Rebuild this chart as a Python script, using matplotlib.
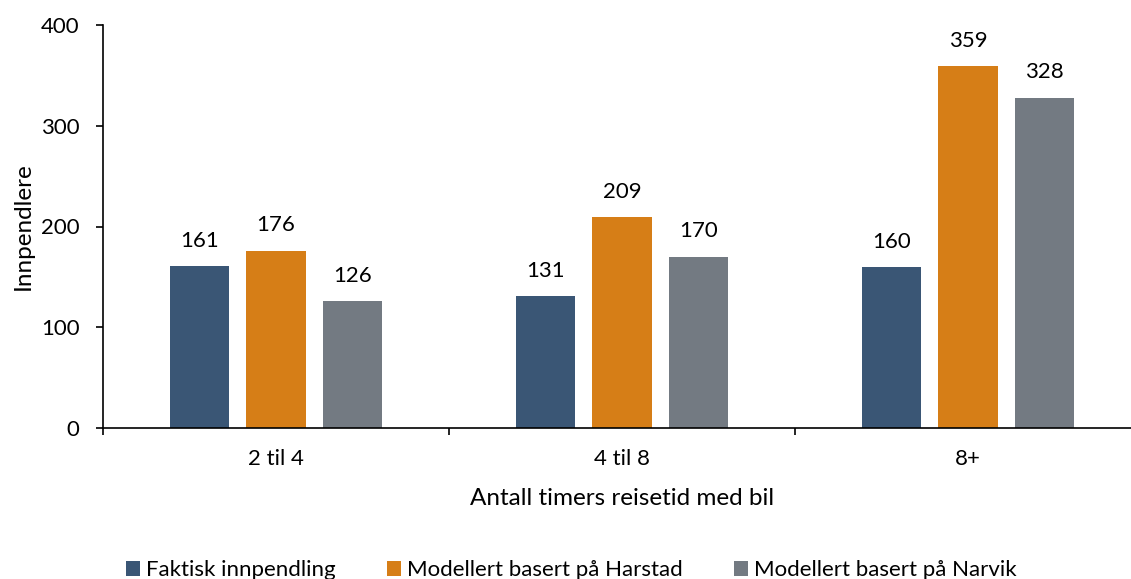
import numpy as np
import matplotlib.pyplot as plt

kategorier = ["2 til 4", "4 til 8", "8+"]
faktisk = [161, 131, 160]
harstad = [176, 209, 359]
narvik = [126, 170, 328]

serier = ["Faktisk innpendling",
          "Modellert basert på Harstad",
          "Modellert basert på Narvik"]
farger = ["#3A5675", "#D67E17", "#737A82"]

plt.rcParams['font.family'] = ['Lato', 'DejaVu Sans']

fig = plt.figure(figsize=(11.31, 5.79), dpi=100)
ax = fig.add_axes([103 / 1131, 151 / 579, 1038 / 1131, 403 / 579])

x = np.arange(len(kategorier))
bredde = 0.173
avstand = 0.221
for n, verdier in enumerate([faktisk, harstad, narvik]):
    bars = ax.bar(x + (n - 1) * avstand, verdier, bredde,
                  color=farger[n], label=serier[n], zorder=2)
    for b, v in zip(bars, verdier):
        ax.annotate(str(v), (b.get_x() + b.get_width() / 2, v),
                    xytext=(0, 11), textcoords="offset points",
                    ha="center", va="bottom", fontsize=16)

ax.set_xlim(-0.5, 2.5)
ax.set_ylim(0, 400)
ax.set_yticks([0, 100, 200, 300, 400])
ax.set_xticks(x)
ax.set_xticklabels(kategorier)
ax.set_xticks([-0.5, 0.5, 1.5, 2.5], minor=True)
ax.tick_params(axis="x", which="major", length=0, pad=15, labelsize=16)
ax.tick_params(axis="x", which="minor", length=5, width=1.2, direction="out")
ax.tick_params(axis="y", length=5, width=1.2, direction="out", labelsize=16, pad=12)

for s in ["top", "right"]:
    ax.spines[s].set_visible(False)
ax.spines["left"].set_linewidth(1.2)
ax.spines["bottom"].set_linewidth(1.2)

ax.set_ylabel("Innpendlere", fontsize=17.5, labelpad=5)
ax.set_xlabel("Antall timers reisetid med bil", fontsize=17.5, labelpad=14)

fig.legend(loc="lower center", bbox_to_anchor=(0.505, -0.037), ncol=3,
           frameon=False, fontsize=16, handlelength=0.65, handleheight=0.65,
           handletextpad=0.25, columnspacing=2.3)

fig.savefig("out.png", dpi=100)
